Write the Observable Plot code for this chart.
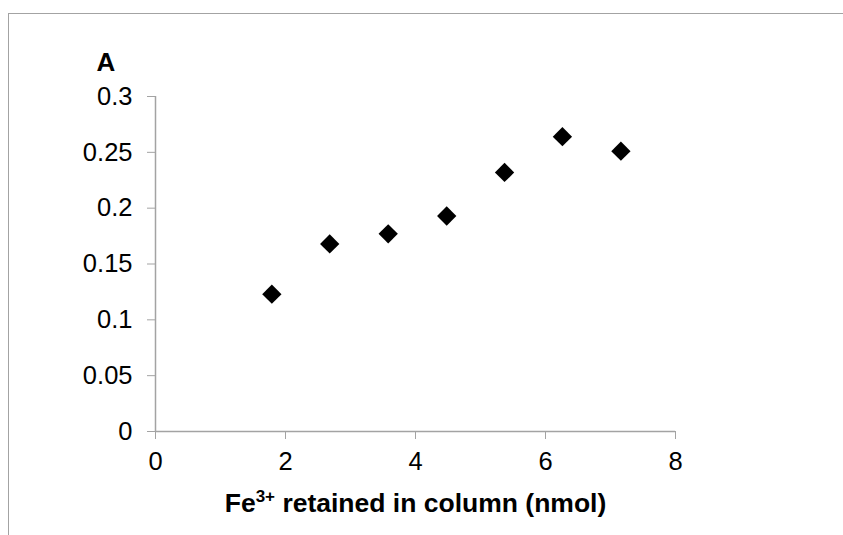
<!DOCTYPE html>
<html>
<head>
<meta charset="utf-8">
<script src="https://cdn.jsdelivr.net/npm/d3@7"></script>
<script src="https://cdn.jsdelivr.net/npm/@observablehq/plot@0.6"></script>
<style>
  html, body { margin: 0; padding: 0; background: #fff; }
  #wrap { position: relative; width: 843px; height: 535px; overflow: hidden; }
  #frame { position: absolute; left: 8px; top: 13px; width: 900px; height: 600px;
           border-top: 1.5px solid #a3a3a3; border-left: 1.5px solid #a3a3a3; }
  #chart { position: absolute; left: 0; top: 0; }
</style>
</head>
<body>
<div id="wrap"><div id="frame"></div><div id="chart"></div></div>
<script>
const ironNmol = [1.79, 2.68, 3.58, 4.48, 5.37, 6.26, 7.16];
const absorbance = [0.123, 0.168, 0.177, 0.193, 0.232, 0.264, 0.251];
const xTicks = [0, 2, 4, 6, 8];
const yTicks = [0, 0.05, 0.1, 0.15, 0.2, 0.25, 0.3];
const yTickLabels = ["0", "0.05", "0.1", "0.15", "0.2", "0.25", "0.3"];
const xTitle = "Fe3+ retained in column (nmol)";
const yTitle = "A";

const data = ironNmol.map((x, i) => ({x, y: absorbance[i]}));
const axisColor = "#a3a3a3";

const plot = Plot.plot({
  width: 843,
  height: 535,
  marginLeft: 155,
  marginRight: 168,
  marginTop: 96,
  marginBottom: 104,
  style: {fontFamily: "'Liberation Sans', Arial, sans-serif", fontSize: "25.5px", color: "black", background: "transparent"},
  x: {domain: [0, 8]},
  y: {domain: [0, 0.3]},
  marks: [
    Plot.ruleX([0], {y1: 0, y2: 0.3, stroke: axisColor, strokeWidth: 1.5}),
    Plot.ruleY([0], {x1: 0, x2: 8, stroke: axisColor, strokeWidth: 1.5}),
    Plot.axisY({ticks: yTicks, tickFormat: (d) => yTickLabels[yTicks.indexOf(d)], tickSize: 8, tickPadding: 15,
                stroke: axisColor, fill: "black", label: null}),
    Plot.axisX({ticks: xTicks, tickFormat: d => String(d), tickSize: 8, tickPadding: 12,
                stroke: axisColor, fill: "black", label: null}),
    Plot.dot(data, {x: "x", y: "y", symbol: "diamond2", r: 8.7, fill: "black", stroke: "none"}),
    Plot.text([xTitle], {frameAnchor: "bottom", dy: 80, lineAnchor: "bottom", textAnchor: "middle",
                         fontWeight: "bold", fontSize: 26.5, fill: "black", className: "xtitle"}),
    Plot.text([yTitle], {frameAnchor: "top-left", dx: -59, dy: -26, lineAnchor: "bottom", textAnchor: "start",
                         fontWeight: "bold", fontSize: 26, fill: "black"})
  ]
});
plot.querySelectorAll("[aria-label='tick'] path, [aria-label='tick'] line").forEach(p => p.setAttribute("stroke-width", 1.5));
document.getElementById("chart").appendChild(plot);

// superscript in the x title
const t = plot.querySelector("g.xtitle text") || [...plot.querySelectorAll("text")].find(e => e.textContent === xTitle);
if (t) {
  const ns = "http://www.w3.org/2000/svg";
  t.textContent = "";
  const a = document.createElementNS(ns, "tspan"); a.textContent = "Fe";
  const b = document.createElementNS(ns, "tspan"); b.textContent = "3+";
  b.setAttribute("font-size", "17"); b.setAttribute("dy", "-9.5");
  const c = document.createElementNS(ns, "tspan"); c.textContent = " retained in column (nmol)";
  c.setAttribute("dy", "9.5");
  t.append(a, b, c);
}
</script>
</body>
</html>
